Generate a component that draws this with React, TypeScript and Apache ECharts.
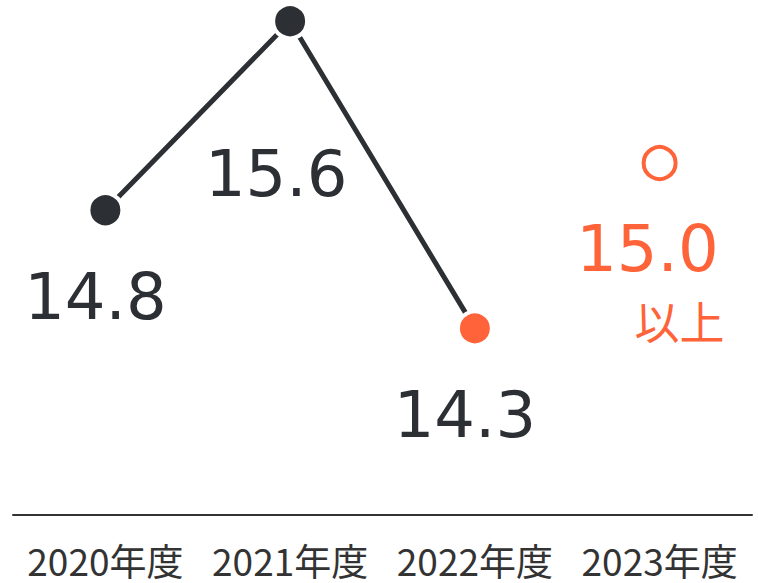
import React, { useEffect, useRef } from "react";
import * as echarts from "echarts";

const categories = ["2020年度", "2021年度", "2022年度", "2023年度"];
const actualValues = [14.8, 15.6, 14.3];
const targetValue = 15.0;
const targetSuffix = "以上";

const DARK = "#2c2f33";
const ORANGE = "#ff6339";

// label offsets (style only)
const labelOffsets: [number, number][] = [
  [-10, 87],
  [-14, 153],
  [-10, 87],
];

export default function App() {
  const ref = useRef<HTMLDivElement>(null);
  useEffect(() => {
    if (!ref.current) return;
    const chart = echarts.init(ref.current, undefined, { renderer: "svg" });
    const lineData = actualValues.map((v, i) => ({
      value: v,
      itemStyle: {
        color: i === actualValues.length - 1 ? ORANGE : DARK,
        borderColor: "#ffffff",
        borderWidth: 4,
      },
      label: {
        show: true,
        position: "inside" as const,
        offset: labelOffsets[i],
        formatter: v.toFixed(1),
        fontFamily: "DejaVu Sans",
        fontSize: 64,
        color: DARK,
      },
    }));
    const targetData: any[] = categories.map((_, i) =>
      i === categories.length - 1
        ? {
            value: targetValue,
            label: {
              show: true,
              position: "inside",
              align: "right",
              offset: [65, 122],
              formatter: `{a|${targetValue.toFixed(1)}}\n{b|${targetSuffix}}`,
              rich: {
                a: {
                  fontFamily: "DejaVu Sans",
                  fontSize: 64,
                  color: ORANGE,
                  lineHeight: 70,
                  padding: [0, 6, 0, 0],
                },
                b: {
                  fontFamily: "Noto Sans CJK JP",
                  fontSize: 45,
                  color: ORANGE,
                  lineHeight: 72,
                },
              },
            },
          }
        : "-"
    );
    chart.setOption({
      animation: false,
      grid: { left: 13, right: 6, top: 0, bottom: 68, containLabel: false },
      xAxis: {
        type: "category",
        data: categories,
        boundaryGap: true,
        axisLine: { show: true, lineStyle: { color: "#333333", width: 2 } },
        axisTick: { show: false },
        axisLabel: {
          color: "#333333",
          fontSize: 37,
          lineHeight: 37,
          fontFamily: "Noto Sans CJK JP",
          margin: 26,
          interval: 0,
        },
        splitLine: { show: false },
      },
      yAxis: {
        type: "value",
        min: 13.51,
        max: 15.69,
        show: false,
        splitLine: { show: false },
      },
      series: [
        {
          type: "line",
          data: lineData,
          symbol: "circle",
          symbolSize: 34,
          lineStyle: { color: DARK, width: 5 },
          z: 2,
        },
        {
          type: "scatter",
          data: targetData,
          symbol: "circle",
          symbolSize: 32,
          itemStyle: { color: "#ffffff", borderColor: ORANGE, borderWidth: 4, opacity: 1 },
          z: 3,
        },
      ],
    });
    return () => chart.dispose();
  }, []);
  return (
    <div
      ref={ref}
      style={{ position: "absolute", left: 0, top: 0, width: 758, height: 583 }}
    />
  );
}
